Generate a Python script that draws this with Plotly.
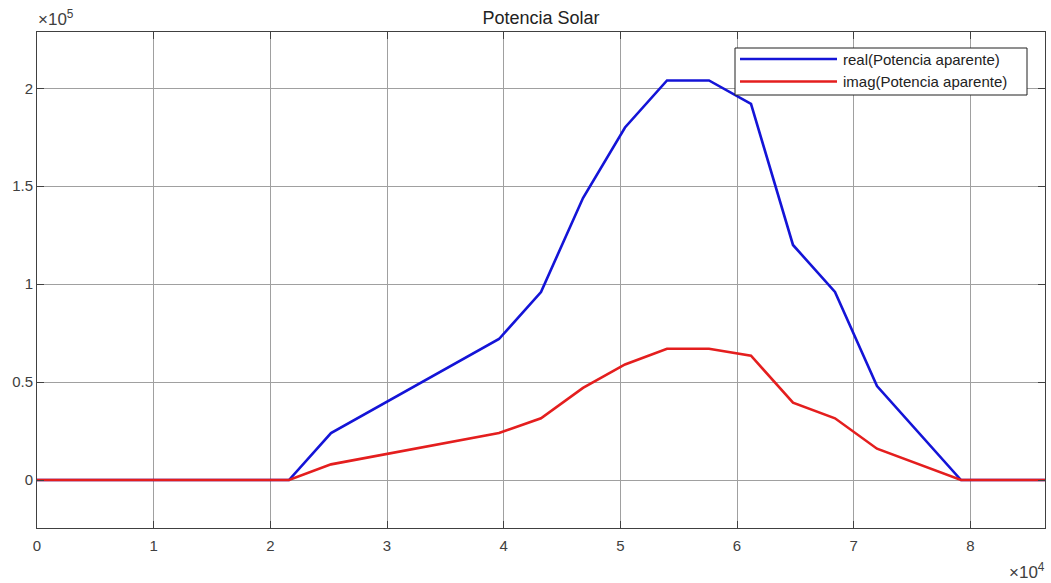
import plotly.graph_objects as go

# Time of day in seconds and the apparent power components
t_seg = [0, 21600, 25200, 39600, 43200, 46800, 50400, 54000, 57600,
         61200, 64800, 68400, 72000, 79200, 86400]
p_real = [0, 0, 24000, 72000, 96000, 144000, 180000, 204000, 204000,
          192000, 120000, 96000, 48000, 0, 0]
p_imag = [0, 0, 8000, 24000, 31500, 47000, 59000, 67000, 67000,
          63500, 39500, 31500, 16000, 0, 0]

x_tickvals = [0, 10000, 20000, 30000, 40000, 50000, 60000, 70000, 80000]
x_ticktext = ["0", "1", "2", "3", "4", "5", "6", "7", "8"]
y_tickvals = [0, 50000, 100000, 150000, 200000]
y_ticktext = ["0", "0.5", "1", "1.5", "2"]

legend_names = ["real(Potencia aparente)", "imag(Potencia aparente)"]
BLUE = "rgb(20,20,215)"
RED = "rgb(228,30,30)"
FONT = "Liberation Sans, Arial, sans-serif"
TXT = "#404040"

W, H = 1051, 583
ML, MR, MT, MB = 37, 6, 32, 55
PW, PH = W - ML - MR, H - MT - MB


def px(x):
    return (x - ML) / PW


def py(y):
    return (H - MB - y) / PH


fig = go.Figure()
fig.add_trace(go.Scatter(x=t_seg, y=p_real, mode="lines", name=legend_names[0],
                         line=dict(color=BLUE, width=2.6), showlegend=False))
fig.add_trace(go.Scatter(x=t_seg, y=p_imag, mode="lines", name=legend_names[1],
                         line=dict(color=RED, width=2.6), showlegend=False))

axis_common = dict(
    showgrid=True, gridcolor="#a0a0a0", gridwidth=1,
    showline=True, linecolor="#404040", linewidth=1, mirror="allticks",
    ticks="inside", ticklen=7, tickcolor="#404040", tickwidth=1,
    tickfont=dict(family=FONT, size=15, color=TXT),
    zeroline=False,
)

fig.update_xaxes(range=[0, 86400], tickvals=x_tickvals, ticktext=x_ticktext,
                 ticklabelstandoff=4, **axis_common)
fig.update_yaxes(range=[-24500, 228750], tickvals=y_tickvals, ticktext=y_ticktext,
                 **axis_common)

# Legend drawn as a boxed panel in the upper right
shapes = [
    dict(type="rect", xref="paper", yref="paper", layer="above",
         x0=px(735), x1=px(1027), y0=py(95), y1=py(48),
         line=dict(color="#202020", width=1), fillcolor="white"),
    dict(type="line", xref="paper", yref="paper", layer="above",
         x0=px(740), x1=px(837), y0=py(59), y1=py(59),
         line=dict(color=BLUE, width=2.6)),
    dict(type="line", xref="paper", yref="paper", layer="above",
         x0=px(740), x1=px(837), y0=py(81.5), y1=py(81.5),
         line=dict(color=RED, width=2.6)),
]

annotations = [
    dict(text=legend_names[0], xref="paper", yref="paper", x=px(841), y=py(59),
         xanchor="left", yanchor="middle", showarrow=False,
         font=dict(family=FONT, size=15, color="#222222")),
    dict(text=legend_names[1], xref="paper", yref="paper", x=px(841), y=py(81.5),
         xanchor="left", yanchor="middle", showarrow=False,
         font=dict(family=FONT, size=15, color="#222222")),
    dict(text="\u00d710<sup>5</sup>", xref="paper", yref="paper", x=0, y=1.0,
         xanchor="left", yanchor="bottom", yshift=1, xshift=-1, showarrow=False,
         font=dict(family=FONT, size=17, color=TXT)),
    dict(text="\u00d710<sup>4</sup>", xref="paper", yref="paper", x=1.0, y=0,
         xanchor="right", yanchor="top", yshift=-30, xshift=2, showarrow=False,
         font=dict(family=FONT, size=17, color=TXT)),
]

fig.update_layout(
    width=W, height=H,
    margin=dict(l=ML, r=MR, t=MT, b=MB),
    paper_bgcolor="white", plot_bgcolor="white",
    title=dict(text="Potencia Solar", x=0.5 * (ML + W - MR) / W, xanchor="center",
               y=1 - 18 / H, yanchor="middle",
               font=dict(family=FONT, size=18, color="#222222")),
    shapes=shapes, annotations=annotations,
    showlegend=False,
)

fig.write_html("out.html")
